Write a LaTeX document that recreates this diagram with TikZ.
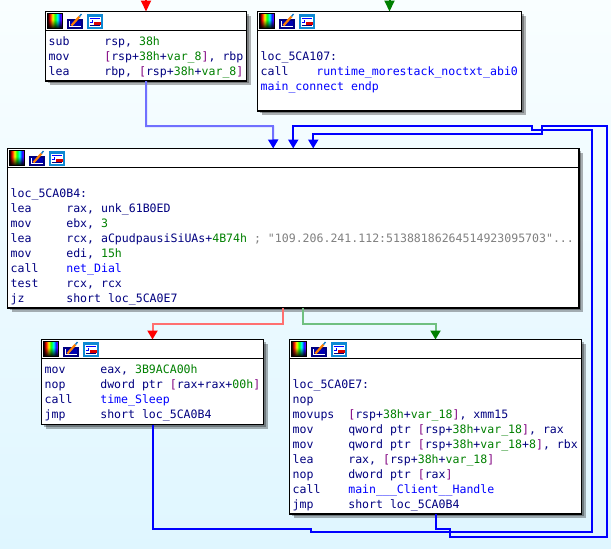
\documentclass[tikz,border=0pt]{standalone}
\usepackage{fontspec}
\setmonofont{DejaVu Sans Mono}
\usetikzlibrary{arrows.meta, shadows, fadings}

\definecolor{asmnavy}{HTML}{000080}
\definecolor{asmgreen}{HTML}{008000}
\definecolor{asmblue}{HTML}{0000FF}
\definecolor{asmpurple}{HTML}{800080}
\definecolor{asmgray}{HTML}{808080}
\definecolor{bgtop}{HTML}{F9FEFF}
\definecolor{bgbottom}{HTML}{DFF6FF}
\definecolor{softblue}{HTML}{7070FF}
\definecolor{softred}{HTML}{FF7070}
\definecolor{softgreen}{HTML}{70C080}

\pgfdeclarehorizontalshading{rainbowbar}{100bp}{color(0bp)=(black);color(25bp)=(black);color(33bp)=(red);color(42bp)=(yellow);color(50bp)=(green);color(58bp)=(cyan);color(67bp)=(blue);color(75bp)=(magenta);color(100bp)=(magenta)}

\newcommand{\ins}[2]{\makebox[55.6pt][l]{#1}#2}
\newcommand{\dataval}[1]{\textcolor{asmgreen}{#1}}
\newcommand{\fname}[1]{\textcolor{asmblue}{#1}}
\newcommand{\brl}{\textcolor{asmpurple}{[}}
\newcommand{\brr}{\textcolor{asmpurple}{]}}
\newcommand{\blockhead}[1]{
	\draw[line width=1pt] ([yshift=-19pt]#1.north west) -- ([yshift=-19pt]#1.north east);
	\pic at (#1.north west) {blockicons};
}

\tikzset{
	block/.style={draw=black, line width=1.1pt, fill=white, inner sep=0pt, outer sep=0pt,
		double copy shadow={shadow xshift=2.2pt, shadow yshift=-2.2pt, fill=black, draw=none, opacity=0.3}},
	asm/.style={anchor=north west, align=left, inner sep=0pt, text=asmnavy,
		font=\fontsize{11.55}{15}\selectfont\ttfamily},
	softedge/.style={line width=2pt, color=softblue, -{Triangle[length=9pt,width=10pt,color=asmblue,fill=asmblue]}},
	backedge/.style={line width=2pt, color=asmblue, -{Triangle[length=9pt,width=10pt]}},
	falseedge/.style={line width=2pt, color=softred, -{Triangle[length=9pt,width=10pt,color=red,fill=red]}},
	trueedge/.style={line width=2pt, color=softgreen, -{Triangle[length=9pt,width=10pt,color=asmgreen,fill=asmgreen]}},
	blockicons/.pic={
		\shade[shading=rainbowbar] (2,2) rectangle (17,17);
		\fill[black, path fading=north] (2,8) rectangle (17,17);
		\draw[black, line width=0.8pt] (2,2) rectangle (17,17);
		\fill[asmnavy] (21.5,7) rectangle (37.5,17);
		\fill[white] (23.5,9) rectangle (35.5,15);
		\fill[asmblue!70!black] (24,9.5) rectangle (35,14.5);
		\draw[orange, line width=2.2pt] (26,14) -- (34,5);
		\draw[cyan!60!blue, line width=1.4pt] (34,5) -- (36,2.5);
		\fill[cyan!70!blue] (41.5,2) rectangle (57,17);
		\fill[white] (43,5) rectangle (55.5,15.5);
		\draw[asmblue, line width=0.7pt] (44,7) -- (54,7) (44,11) -- (47,11) -- (47,8);
		\fill[red!85!black] (48,10) rectangle (55,13);
		\draw[asmnavy, line width=0.7pt] (44,14) -- (54,14);
	},
}

\begin{document}
\begin{tikzpicture}[x=1pt,y=-1pt]
	\useasboundingbox (0,0) rectangle (611,549);
	\shade[top color=bgtop, bottom color=bgbottom] (0,0) rectangle (611,549);

	\coordinate (entryred) at (146,0);
	\coordinate (entrygreen) at (389.5,0);

	\node[block, minimum width=201pt, minimum height=69.5pt] (boxa) at (146,46.25) {};
	\node[block, minimum width=264pt, minimum height=99.5pt] (boxb) at (389.5,61.25) {};
	\node[block, minimum width=571.5pt, minimum height=159.5pt] (boxmain) at (293.25,228.25) {};
	\node[block, minimum width=222pt, minimum height=85pt] (boxc) at (152.5,382) {};
	\node[block, minimum width=292pt, minimum height=174.5pt] (boxd) at (435.5,426.75) {};

	\blockhead{boxa}
	\blockhead{boxb}
	\blockhead{boxmain}
	\blockhead{boxc}
	\blockhead{boxd}

	\node[asm] (textA) at ([xshift=3pt,yshift=-23pt]boxa.north west) {%
		\strut\ins{sub}{rsp, \dataval{38h}}\\
		\ins{mov}{\brl rsp+\dataval{38h}+\dataval{var\_8}\brr, rbp}\\
		\ins{lea}{rbp, \brl rsp+\dataval{38h}+\dataval{var\_8}\brr}};
	\node[asm] (textB) at ([xshift=3pt,yshift=-23pt]boxb.north west) {%
		\strut\\
		loc\_5CA107:\\
		\ins{call}{\fname{runtime\_morestack\_noctxt\_abi0}}\\
		\fname{main\_connect endp}};
	\node[asm] (textmain) at ([xshift=3pt,yshift=-23pt]boxmain.north west) {%
		\strut\\
		loc\_5CA0B4:\\
		\ins{lea}{rax, unk\_61B0ED}\\
		\ins{mov}{ebx, \dataval{3}}\\
		\ins{lea}{rcx, aCpudpausiSiUAs+\dataval{4B74h} \textcolor{asmgray}{; "109.206.241.112:51388186264514923095703"...}}\\
		\ins{mov}{edi, \dataval{15h}}\\
		\ins{call}{\fname{net\_Dial}}\\
		\ins{test}{rcx, rcx}\\
		\ins{jz}{short loc\_5CA0E7}};
	\node[asm] (textC) at ([xshift=3pt,yshift=-23pt]boxc.north west) {%
		\strut\ins{mov}{eax, \dataval{3B9ACA00h}}\\
		\ins{nop}{dword ptr \brl rax+rax+\dataval{00h}\brr}\\
		\ins{call}{\fname{time\_Sleep}}\\
		\ins{jmp}{short loc\_5CA0B4}};
	\node[asm] (textD) at ([xshift=3pt,yshift=-23pt]boxd.north west) {%
		\strut\\
		loc\_5CA0E7:\\
		nop\\
		\ins{movups}{\brl rsp+\dataval{38h}+\dataval{var\_18}\brr, xmm15}\\
		\ins{mov}{qword ptr \brl rsp+\dataval{38h}+\dataval{var\_18}\brr, rax}\\
		\ins{mov}{qword ptr \brl rsp+\dataval{38h}+\dataval{var\_18}+\dataval{8}\brr, rbx}\\
		\ins{lea}{rax, \brl rsp+\dataval{38h}+\dataval{var\_18}\brr}\\
		\ins{nop}{dword ptr \brl rax\brr}\\
		\ins{call}{\fname{main\_\_\_Client\_\_Handle}}\\
		\ins{jmp}{short loc\_5CA0B4}};

	\draw[-{Triangle[length=11pt,width=10pt,color=red,fill=red]}, color=red, line width=2pt] (entryred) -- (boxa.north);
	\draw[-{Triangle[length=11pt,width=10pt,color=asmgreen,fill=asmgreen]}, color=asmgreen, line width=2pt] (entrygreen) -- (boxb.north);
	\draw[softedge] (boxa.south) |- (273,126) -- ([xshift=-20pt]boxmain.north);
	\draw[falseedge] ([xshift=-10pt]boxmain.south) |- (152.5,324) -- (boxc.north);
	\draw[trueedge] ([xshift=10pt]boxmain.south) |- (435.5,324) -- (boxd.north);
	\draw[backedge] (boxc.south) |- (311,529) -- (311,532) -- (592,532) -- (592,130) -- (532,130) -- (532,126) -- (293.25,126) -- (boxmain.north);
	\draw[backedge] (boxd.south) |- (450,529) -- (450,537) -- (607,537) -- (607,126) -- (542,126) -- (542,134) -- (313.25,134) -- ([xshift=20pt]boxmain.north);
\end{tikzpicture}
\end{document}
